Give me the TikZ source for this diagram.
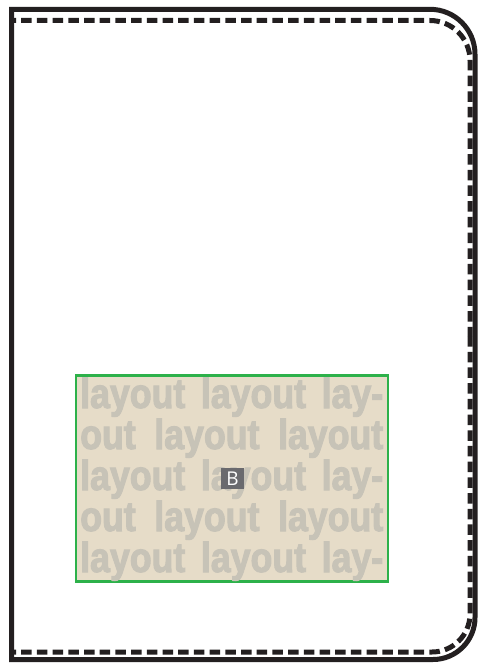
\documentclass[tikz,border=0pt]{standalone}
\usepackage{fontspec}
\setmainfont{Liberation Sans}
\newfontfamily\impactish{Liberation Sans Bold}[FakeStretch=0.85,FakeBold=2.5]
\newfontfamily\labelfont{Open Sans}
\definecolor{ink}{HTML}{231F20}
\definecolor{beige}{HTML}{E6DCC8}
\definecolor{frame}{HTML}{2DB14A}
\definecolor{ghost}{HTML}{C7C3B7}
\definecolor{tag}{HTML}{6A6A6E}
\tikzset{
  outerline/.style={draw=ink,line width=5pt,line join=miter},
  dashline/.style={draw=ink,line width=5pt,dash pattern=on 10.5pt off 5.2pt,dash phase=7.5pt},
  panel/.style={draw=frame,line width=2.2pt,fill=beige},
  ghosttext/.style={anchor=base west,inner sep=0pt,text=ghost,font=\impactish\fontsize{42}{42}\selectfont},
  tagbox/.style={fill=tag,text=white,inner sep=0pt,minimum width=23pt,minimum height=21pt,font=\labelfont\fontsize{19}{19}\selectfont}
}
\begin{document}
\begin{tikzpicture}[x=1pt,y=-1pt]
\useasboundingbox (0,0) rectangle (477,663);
% outer solid border
\draw[outerline] (11.5,9.3) -- (430,9.3) arc[start angle=-90,end angle=0,radius=45]
  -- (475,617.5) arc[start angle=0,end angle=90,radius=42] -- (11.5,659.5) -- cycle;
% inner dashed border
\draw[dashline] (13,20.5) -- (430,20.5) arc[start angle=-90,end angle=0,radius=40] -- (470,336);
\draw[dashline] (13,652) -- (432,652) arc[start angle=90,end angle=0,radius=38] -- (470,336);
% panel
\draw[panel] (76,375.5) rectangle (388,581.5);
\node[ghosttext] (l1) at (80,408) {\makebox[303pt][s]{layout layout lay-}};
\node[ghosttext] (l2) at (80,449) {\makebox[303pt][s]{out layout layout}};
\node[ghosttext] (l3) at (80,490) {\makebox[303pt][s]{layout layout lay-}};
\node[ghosttext] (l4) at (80,531) {\makebox[303pt][s]{out layout layout}};
\node[ghosttext] (l5) at (80,572) {\makebox[303pt][s]{layout layout lay-}};
\node[tagbox] (b) at (232.5,478.7) {B};
\end{tikzpicture}
\end{document}
